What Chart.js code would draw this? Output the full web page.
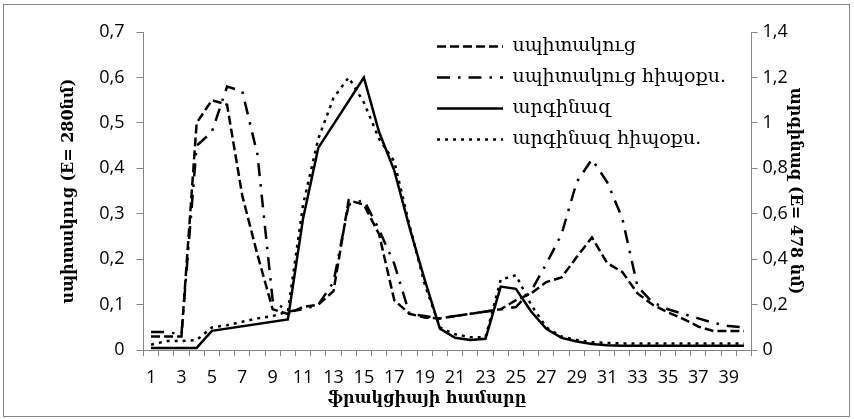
<!DOCTYPE html>
<html>
<head>
<meta charset="utf-8">
<script src="https://cdn.jsdelivr.net/npm/chart.js@4.4.1/dist/chart.umd.min.js"></script>
<style>
  html, body { margin: 0; padding: 0; background: #fff; }
  #wrap { width: 854px; height: 419px; }
</style>
</head>
<body>
<div id="wrap"><canvas id="fractionChart"></canvas></div>
<script>
// fraction numbers
const fractions = ['1','2','3','4','5','6','7','8','9','10',
  '11','12','13','14','15','16','17','18','19','20',
  '21','22','23','24','25','26','27','28','29','30',
  '31','32','33','34','35','36','37','38','39','40'];

// protein, E 280 nm (left axis)
const protein = [0.03,0.03,0.03,0.50,0.55,0.54,0.34,0.21,0.09,0.08,
  0.095,0.10,0.13,0.33,0.32,0.255,0.11,0.08,0.072,0.07,
  0.075,0.08,0.085,0.09,0.11,0.125,0.15,0.16,0.205,0.248,
  0.192,0.172,0.125,0.10,0.083,0.069,0.052,0.042,0.042,0.042];

const proteinHypoxia = [0.04,0.04,0.035,0.45,0.48,0.58,0.57,0.43,0.11,0.085,
  0.09,0.10,0.15,0.32,0.33,0.265,0.19,0.08,0.075,0.07,
  0.075,0.08,0.085,0.09,0.095,0.13,0.19,0.255,0.37,0.42,
  0.37,0.29,0.14,0.105,0.09,0.08,0.07,0.06,0.053,0.05];

// arginase, E 478 nm (right axis); null = fraction not measured
const arginase = [0.01,0.01,0.01,0.01,0.085,null,null,null,null,0.135,
  0.58,0.89,null,null,1.2,0.96,0.79,0.54,0.31,0.095,
  0.055,0.045,0.05,0.28,0.27,0.17,0.094,0.054,0.038,0.027,
  0.022,0.02,0.02,0.02,0.02,0.02,0.02,0.02,0.02,0.02];

const arginaseHypoxia = [0.024,0.04,0.04,0.045,0.10,0.11,0.125,0.14,0.15,0.17,
  0.64,0.93,1.11,1.2,1.09,0.93,0.83,0.55,0.29,0.10,
  0.07,0.057,0.057,0.31,0.33,0.20,0.10,0.06,0.045,0.035,
  0.032,0.03,0.03,0.03,0.03,0.03,0.03,0.03,0.03,0.03];

const leftTicks = { min: 0, max: 0.7, step: 0.1 };
const rightTicks = { min: 0, max: 1.4, step: 0.2 };

const axisGray = '#868686';
const tickFont = { family: 'Open Sans', size: 18 };
const titleFont = { family: 'DejaVu Serif', size: 16, weight: 'bold' };

function commaDecimal(v) {
  return String(Math.round(v * 10) / 10).replace('.', ',');
}

// grey frame round the whole chart
const frameBorder = {
  id: 'frameBorder',
  beforeDraw(chart) {
    const ctx = chart.ctx;
    ctx.save();
    ctx.strokeStyle = axisGray;
    ctx.lineWidth = 1;
    ctx.strokeRect(3.5, 4.5, 846, 412);
    ctx.restore();
  }
};

// move the legend into the upper right part of the plot
const legendInside = {
  id: 'legendInside',
  afterLayout(chart) {
    chart.legend.left = 425;
    chart.legend.top = 25;
  }
};

function lineSet(label, data, axis, dash) {
  return {
    label: label,
    data: data,
    yAxisID: axis,
    borderColor: '#000',
    backgroundColor: '#000',
    borderWidth: 2.5,
    borderDash: dash,
    borderCapStyle: 'butt',
    pointRadius: 0,
    pointHoverRadius: 0,
    tension: 0,
    spanGaps: true,
    fill: false
  };
}

new Chart(document.getElementById('fractionChart'), {
  type: 'line',
  data: {
    labels: fractions,
    datasets: [
      lineSet('սպիտակուց', protein, 'yLeft', [9, 4]),
      lineSet('սպիտակուց հիպօքս.', proteinHypoxia, 'yLeft', [13, 8, 2.5, 8]),
      lineSet('արգինազ', arginase, 'yRight', []),
      lineSet('արգինազ հիպօքս.', arginaseHypoxia, 'yRight', [3, 5])
    ]
  },
  options: {
    responsive: true,
    maintainAspectRatio: false,
    animation: false,
    layout: { padding: { left: 0, right: 0, top: 32, bottom: 0 } },
    scales: {
      x: {
        offset: true,
        grid: { offset: true, drawOnChartArea: false, tickLength: 6, color: axisGray },
        border: { color: axisGray },
        ticks: {
          autoSkip: false,
          maxRotation: 0,
          padding: 10.5,
          color: '#000',
          font: tickFont,
          callback: function (value, index) {
            return index % 2 === 0 ? this.getLabelForValue(value) : '';
          }
        }
      },
      yLeft: {
        position: 'left',
        min: leftTicks.min,
        max: leftTicks.max,
        grid: { drawOnChartArea: false, tickLength: 7, color: axisGray },
        border: { color: axisGray },
        ticks: { stepSize: leftTicks.step, padding: 12, color: '#000', font: tickFont, callback: commaDecimal },
        title: {
          display: true,
          text: 'սպիտակուց (E= 280նմ)',
          color: '#000',
          font: titleFont,
          padding: { top: 59, bottom: 9 }
        }
      },
      yRight: {
        position: 'right',
        min: rightTicks.min,
        max: rightTicks.max,
        grid: { drawOnChartArea: false, tickLength: 6, color: axisGray },
        border: { color: axisGray },
        ticks: { stepSize: rightTicks.step, padding: 5, color: '#000', font: tickFont, callback: commaDecimal },
        title: {
          display: true,
          text: 'արգինազ (E= 478 նմ)',
          color: '#000',
          font: titleFont,
          padding: { top: 49, bottom: -7 }
        }
      }
    },
    plugins: {
      title: {
        display: true,
        position: 'bottom',
        text: 'ֆրակցիայի համարը',
        color: '#000',
        font: titleFont,
        padding: { top: -10, bottom: 11 }
      },
      legend: {
        position: 'chartArea',
        align: 'start',
        labels: {
          usePointStyle: true,
          pointStyle: 'line',
          pointStyleWidth: 66,
          padding: 12,
          color: '#000',
          font: { family: 'DejaVu Serif', size: 19 },
          // legend samples take dash and width from the dataset line
          generateLabels(chart) {
            const items = Chart.defaults.plugins.legend.labels.generateLabels(chart);
            items.forEach((item, i) => {
              const ds = chart.data.datasets[i];
              item.lineDash = ds.borderDash;
              item.lineWidth = ds.borderWidth;
              item.strokeStyle = ds.borderColor;
              item.pointStyle = 'line';
            });
            return items;
          }
        }
      },
      tooltip: { enabled: false }
    }
  },
  plugins: [frameBorder, legendInside]
});
</script>
</body>
</html>
